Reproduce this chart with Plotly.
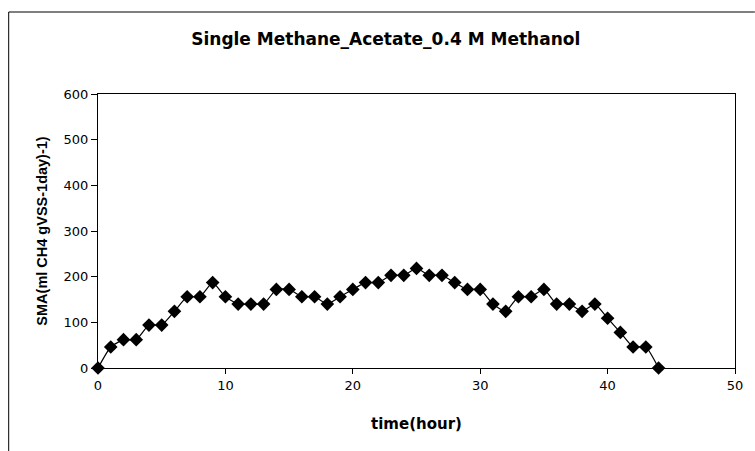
import plotly.graph_objects as go

# Specific methanogenic activity over time
time_hour = list(range(0, 45))
sma = [0, 46, 62, 62, 94, 94, 124, 156, 156, 187,
       156, 140, 140, 140, 172, 172, 156, 156, 140, 156,
       172, 187, 187, 203, 203, 218, 203, 203, 187, 172,
       172, 140, 124, 156, 156, 172, 140, 140, 124, 140,
       109, 78, 46, 46, 0]

title_text = "Single Methane_Acetate_0.4 M Methanol"
x_title = "time(hour)"
y_title = "SMA(ml CH4 gVSS-1day)-1)"
x_ticks = [0, 10, 20, 30, 40, 50]
y_ticks = [0, 100, 200, 300, 400, 500, 600]

WIDE = "DejaVu Sans, Verdana, sans-serif"
ARIAL = "Liberation Sans, Arial, sans-serif"

fig = go.Figure()
fig.add_trace(go.Scatter(
    x=time_hour, y=sma,
    mode="lines+markers",
    line=dict(color="black", width=1.2, shape="spline", smoothing=0.5),
    marker=dict(symbol="diamond", size=10.5, color="black"),
    cliponaxis=False,
    showlegend=False,
))

L, R, T, B = 98, 15, 94, 83
W, H = 755, 451
pw, ph = W - L - R, H - T - B

# Outer chart border: left and top edges (the others run past the page)
bx0 = (8 - L) / pw
by1 = 1 + (T - 12) / ph
fig.add_shape(type="line", xref="paper", yref="paper",
              x0=bx0, x1=bx0, y0=-(B + 5) / ph, y1=by1,
              line=dict(color="black", width=1), layer="below")
fig.add_shape(type="line", xref="paper", yref="paper",
              x0=bx0, x1=1 + (R + 5) / pw, y0=by1, y1=by1,
              line=dict(color="black", width=1), layer="below")

fig.update_layout(
    width=W, height=H,
    margin=dict(l=L, r=R, t=T, b=B),
    paper_bgcolor="white", plot_bgcolor="white",
    font=dict(family=WIDE, color="black", size=13),
    title=dict(
        text="<b>" + title_text + "</b>",
        x=(388 - L) / pw, xref="paper", xanchor="center",
        y=1 - 39 / H, yanchor="middle",
        font=dict(size=17, family=WIDE),
    ),
    xaxis=dict(
        range=[0, 50], tickvals=x_ticks,
        showline=True, linecolor="black", linewidth=1, mirror=True,
        ticks="outside", ticklen=5, tickcolor="black",
        showgrid=False, zeroline=False,
        tickfont=dict(size=13, family=WIDE),
        title=dict(text="<b>" + x_title + "</b>", font=dict(size=15, family=WIDE), standoff=26),
    ),
    yaxis=dict(
        range=[0, 600], tickvals=y_ticks,
        showline=True, linecolor="black", linewidth=1, mirror=True,
        ticks="outside", ticklen=6, tickcolor="black",
        showgrid=False, zeroline=False,
        tickfont=dict(size=13, family=WIDE),
        title=dict(text="<b>" + y_title + "</b>", font=dict(size=14.5, family=ARIAL), standoff=12),
    ),
)

fig.write_html("out.html")
